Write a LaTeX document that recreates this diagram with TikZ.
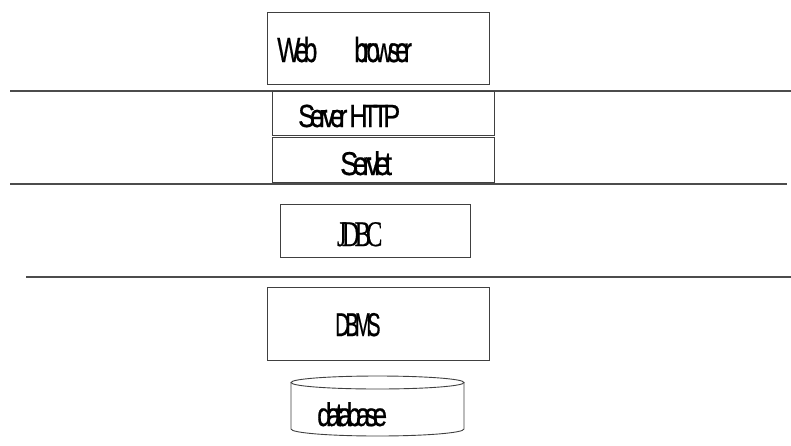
\documentclass[tikz,border=0pt]{standalone}
\usepackage{graphicx}
\usepackage{fontspec}
\setmainfont{Liberation Sans}
\newfontfamily\seriffont{Liberation Serif}
\newcommand{\sqtext}[3]{\fontsize{#1}{#1}\selectfont\addfontfeature{LetterSpace=-20,FakeBold=0.6}\scalebox{#2}[1]{#3}}
\tikzset{
  boxnode/.style={draw=black!75, line width=0.9pt, rectangle, inner sep=0pt, anchor=north west},
  layerline/.style={draw=black!70, line width=1.6pt},
  lbl/.style={anchor=base west, inner sep=0pt, text=black},
  dbshape/.style={draw=black!75, line width=0.9pt, fill=white},
}
\begin{document}
\begin{tikzpicture}[x=1pt, y=-1pt]
\useasboundingbox (0,0) rectangle (791,445);

% layer separators
\coordinate (l1a) at (10,91);  \coordinate (l1b) at (791,91);
\coordinate (l2a) at (10,184); \coordinate (l2b) at (787,184);
\coordinate (l3a) at (26,277); \coordinate (l3b) at (791,277);
\draw[layerline] (l1a) -- (l1b);
\draw[layerline] (l2a) -- (l2b);
\draw[layerline] (l3a) -- (l3b);

% boxes
\node[boxnode, minimum width=222pt, minimum height=72pt] (web) at (267,12) {};
\node[boxnode, minimum width=222pt, minimum height=44pt] (http) at (272,91) {};
\node[boxnode, minimum width=222pt, minimum height=45pt] (servlet) at (272,137) {};
\node[boxnode, minimum width=190pt, minimum height=53pt] (jdbc) at (280,204) {};
\node[boxnode, minimum width=222pt, minimum height=73pt] (dbms) at (267,287) {};

% database cylinder
\draw[dbshape] (291,382.5) -- (291,429) arc[start angle=180, end angle=360, x radius=86.5pt, y radius=7pt] -- (464,382.5);
\draw[dbshape] (377.5,382.5) ellipse[x radius=86.5pt, y radius=6.5pt];

% labels
\node[lbl] (webtxt) at (277,62) {\sqtext{35}{0.70}{Web}\hspace{37pt}\sqtext{35}{0.70}{browser}};
\node[lbl] (httptxt) at (298,127) {\sqtext{32}{0.79}{Server HTTP}};
\node[lbl] (servlettxt) at (340,175) {\sqtext{33}{0.82}{Servlet}};
\node[lbl] (jdbctxt) at (337,246) {\seriffont\sqtext{36}{0.68}{JDBC}};
\node[lbl] (dbmstxt) at (335,336) {\sqtext{33}{0.60}{DBMS}};
\node[lbl] (dbtxt) at (317,426) {\sqtext{33}{0.78}{database}};
\end{tikzpicture}
\end{document}
